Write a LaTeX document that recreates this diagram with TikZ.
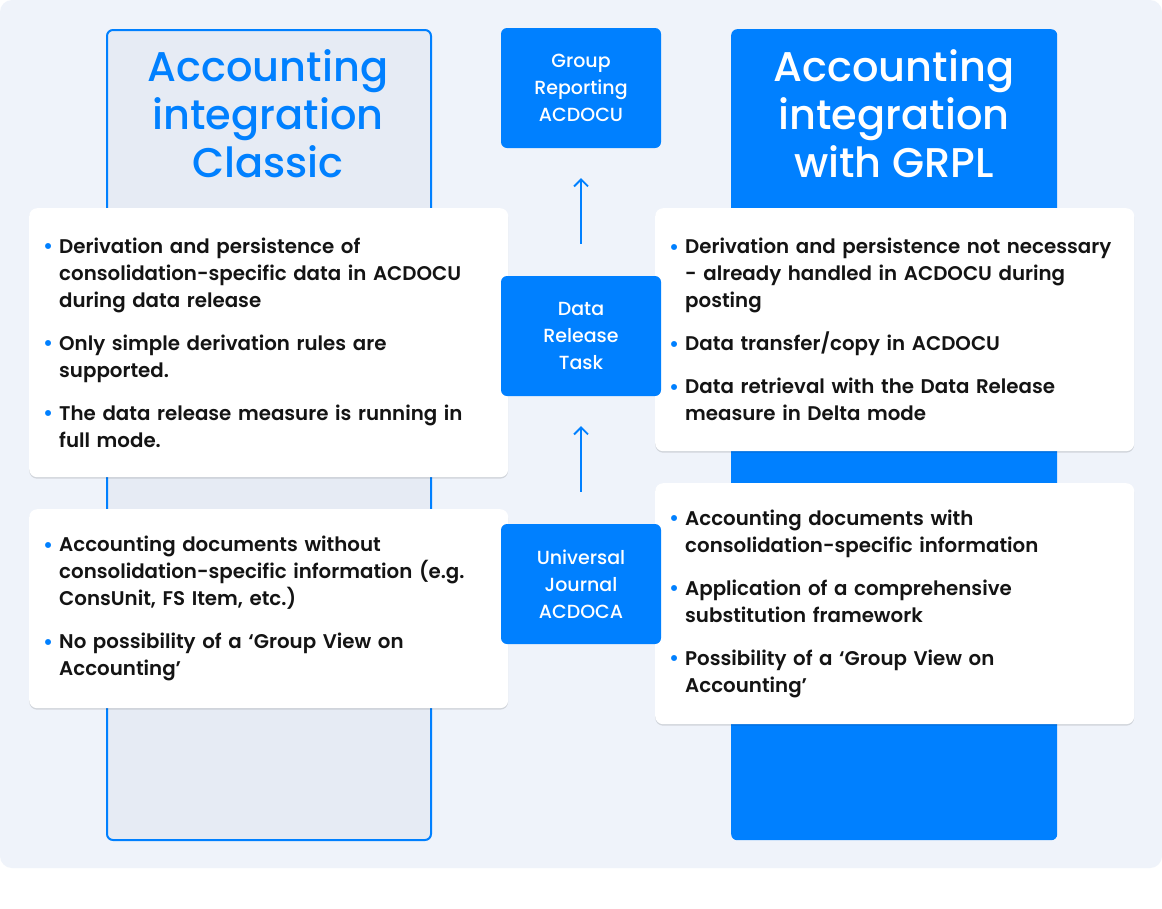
\documentclass[tikz,border=0pt]{standalone}
\usepackage{fontspec}
\setmainfont{Poppins}
\newfontfamily\titlefont{Poppins Medium}
\newfontfamily\cardfont{Poppins SemiBold}
\usetikzlibrary{arrows.meta}
\usetikzlibrary{shadows}

\definecolor{accent}{HTML}{0080FF}
\definecolor{pagebg}{HTML}{EFF3FA}
\definecolor{classicbg}{HTML}{E6EBF4}
\definecolor{ink}{HTML}{141414}

% bullet item inside a card, lines broken by hand
\newcommand{\cardpoint}[1]{\leavevmode\rightskip=-30pt plus 1fil\hyphenpenalty=10000\exhyphenpenalty=10000%
  \llap{\textcolor{accent}{\fontsize{21}{21}\selectfont\raisebox{-0.5pt}{•}}\hspace{6pt}}#1}

\tikzset{
  column/.style={rounded corners=6pt, minimum width=324pt, minimum height=810pt, anchor=north west, inner sep=0pt},
  stage/.style={fill=accent, rounded corners=6pt, minimum width=160pt, minimum height=120pt, text=white, align=center, font=\titlefont\fontsize{19}{27}\selectfont},
  card/.style={fill=white, rounded corners=8pt, anchor=north west, text width=419pt, inner xsep=30pt, inner ysep=0pt, align=left, text=ink, font=\cardfont\fontsize{19.8}{27}\selectfont, drop shadow={shadow xshift=0pt, shadow yshift=-1.5pt, opacity=0.12, fill=black}},
  title/.style={align=center, font=\titlefont\fontsize{41.5}{48}\selectfont},
  flow/.style={draw=accent, line width=1.8pt, -{Straight Barb[length=7pt,width=14pt]}}
}

\begin{document}
\begin{tikzpicture}[x=1pt, y=-1pt]
    \fill[white] (0,0) rectangle (1162,908);
    \useasboundingbox (0,0) rectangle (1162,908);
    \fill[pagebg, rounded corners=12pt] (0,0) rectangle (1162,868);

    \node[column, draw=accent, line width=2pt, fill=classicbg] (classic) at (106,29) {};
    \node[column, fill=accent, minimum width=326pt, minimum height=811pt] (grpl) at (731,29) {};

    \node[title, text=accent] (t1) at (268,114) {Accounting\\integration\\Classic};
    \node[title, text=white] (t2) at (894,114) {Accounting\\integration\\with GRPL};

    \node[card, minimum height=269pt] (c1) at (29,208) {%
      \cardpoint{Derivation and persistence of\\consolidation-specific data in ACDOCU\\during data release}\\[16pt]
      \cardpoint{Only simple derivation rules are\\supported.}\\[16pt]
      \cardpoint{The data release measure is running in\\full mode.}};
    \node[card, minimum height=199pt] (c2) at (29,509) {%
      \cardpoint{Accounting documents without\\consolidation-specific information (e.g.\\ConsUnit, FS Item, etc.)}\\[16pt]
      \cardpoint{No possibility of a ‘Group View on\\Accounting’}};
    \node[card, minimum height=243pt] (c3) at (655,208) {%
      \cardpoint{Derivation and persistence not necessary\\- already handled in ACDOCU during\\posting}\\[16pt]
      \cardpoint{Data transfer/copy in ACDOCU}\\[16pt]
      \cardpoint{Data retrieval with the Data Release\\measure in Delta mode}};
    \node[card, minimum height=241pt] (c4) at (655,483) {%
      \cardpoint{Accounting documents with\\consolidation-specific information}\\[16pt]
      \cardpoint{Application of a comprehensive\\substitution framework}\\[16pt]
      \cardpoint{Possibility of a ‘Group View on\\Accounting’}};

    \node[stage] (acdocu) at (581,88) {Group\\Reporting\\ACDOCU};
    \node[stage] (release) at (581,336) {Data\\Release\\Task};
    \node[stage] (acdoca) at (581,584) {Universal\\Journal\\ACDOCA};

    \draw[flow, shorten <=32pt, shorten >=30pt] (acdoca) -- (release);
    \draw[flow, shorten <=32pt, shorten >=30pt] (release) -- (acdocu);
\end{tikzpicture}
\end{document}
